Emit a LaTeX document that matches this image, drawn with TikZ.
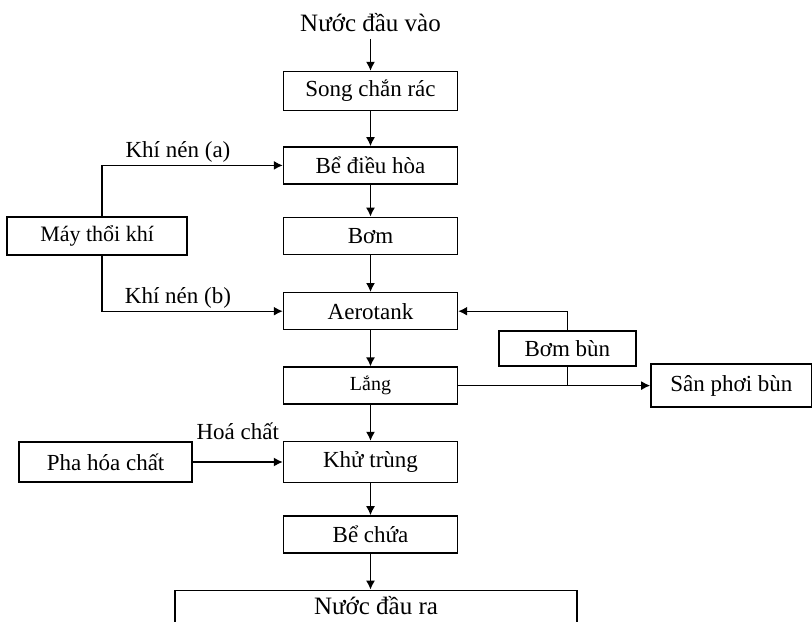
\documentclass[tikz,border=0pt]{standalone}
\usepackage{fontspec}
\setmainfont{Liberation Serif}
\usetikzlibrary{positioning,calc,arrows.meta}

\begin{document}
\begin{tikzpicture}[
  x=0.5pt,
  y=-0.5pt,
  line width=0.7pt,
  font=\fontsize{11.5}{14}\selectfont,
  stage/.style={draw,minimum width=87pt,minimum height=18.5pt,inner sep=2pt},
  side/.style={draw,minimum height=19pt,inner sep=2pt},
  plain/.style={inner sep=3pt,font=\fontsize{12.5}{15}\selectfont},
  flow/.style={-{Latex[length=4.5pt,width=4.5pt]}},
  tag/.style={inner sep=1pt},
  ]
  \useasboundingbox (0,0) rectangle (812,621);
  \node [stage, minimum height=19.5pt] (song) at (370.5,91) {Song chắn rác};
  \node [plain, above=16pt of song] (nuoc-vao) {Nước đầu vào};
  \node [stage, below=17.5pt of song] (dieu-hoa) {Bể điều hòa};
  \node [stage, below=16pt of dieu-hoa] (bom) {Bơm};
  \node [stage, below=18.5pt of bom] (aerotank) {Aerotank};
  \node [stage, below=18pt of aerotank, font=\fontsize{10}{12}\selectfont] (lang) {Lắng};
  \node [stage, below=18pt of lang, minimum height=20.5pt] (khu-trung) {Khử trùng};
  \node [stage, below=16pt of khu-trung] (be-chua) {Bể chứa};
  \node [draw, plain, below=18pt of be-chua, xshift=2.75pt, text depth=5pt,
    minimum width=201pt, minimum height=20pt] (nuoc-ra) {Nước đầu ra};

  \node [side, left=47.5pt of bom, minimum width=90pt,
    font=\fontsize{11}{13}\selectfont] (may-thoi) {Máy thổi khí};
  \node [side, left=45pt of khu-trung, minimum width=86.5pt,
    minimum height=20pt] (pha) {Pha hóa chất};
  \node [side, anchor=north west, minimum width=68.5pt, minimum height=17.5pt]
    (bom-bun) at ([xshift=20pt]aerotank.south east) {Bơm bùn};
  \node [side, right=96pt of lang, minimum width=80.5pt,
    minimum height=21.5pt] (san-phoi) {Sân phơi bùn};

  \draw [flow] (nuoc-vao) -- (song);
  \draw [flow] (song) -- (dieu-hoa);
  \draw [flow] (dieu-hoa) -- (bom);
  \draw [flow] (bom) -- (aerotank);
  \draw [flow] (aerotank) -- (lang);
  \draw [flow] (lang) -- (khu-trung);
  \draw [flow] (khu-trung) -- (be-chua);
  \draw [flow] (be-chua) -- (be-chua |- nuoc-ra.north);

  \draw [flow] ([xshift=2.5pt]may-thoi.north) |-
    node [tag, above, pos=0.71] {Khí nén (a)} (dieu-hoa);
  \draw [flow] ([xshift=2.5pt]may-thoi.south) |-
    node [tag, above, pos=0.71] {Khí nén (b)} (aerotank);
  \draw [flow] (bom-bun.north) |- (aerotank.east);
  \draw [flow] (lang) -- (san-phoi);
  \draw (bom-bun.south) -- (bom-bun.south |- lang.east);
  \draw [flow] (pha) -- node [tag, above=10pt] {Hoá chất} (khu-trung);
\end{tikzpicture}
\end{document}
